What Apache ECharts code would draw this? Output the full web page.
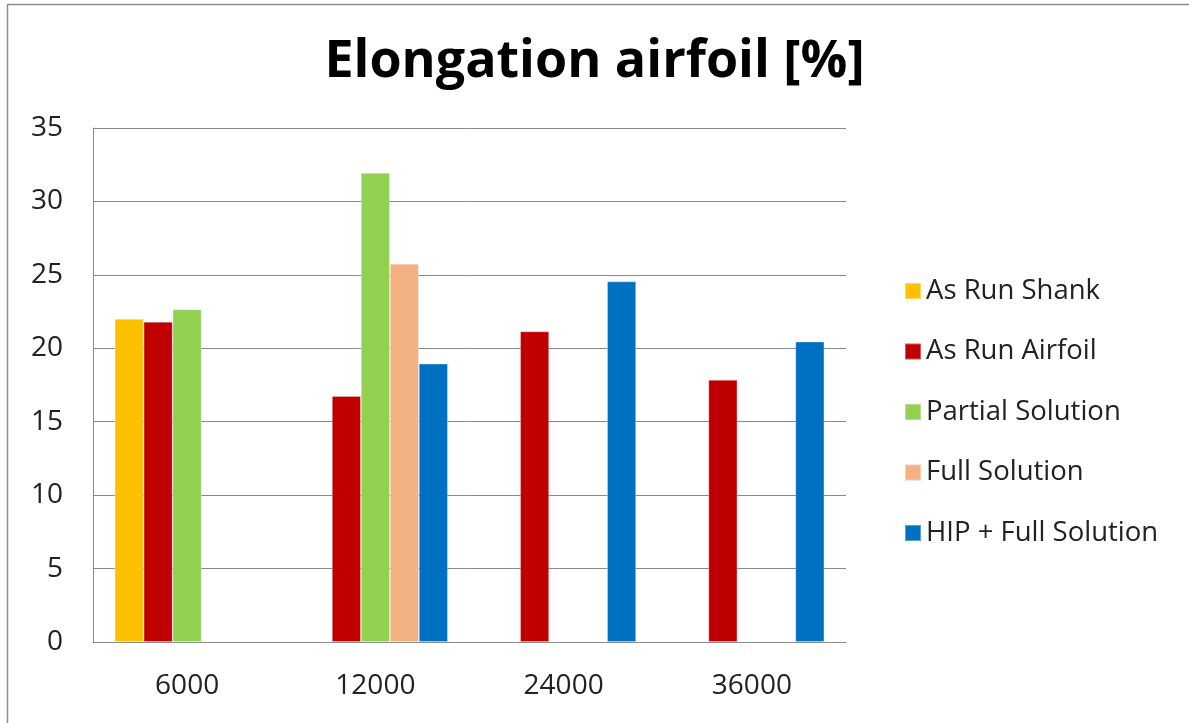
<!DOCTYPE html>
<html>
<head>
<meta charset="utf-8">
<style>
  html, body { margin: 0; padding: 0; background: #fff; }
  #chart { width: 1189px; height: 723px; }
</style>
<script src="https://cdn.jsdelivr.net/npm/echarts@6/dist/echarts.min.js"></script>
</head>
<body>
<div id="chart"></div>
<script>
// Elongation of airfoil specimens by exposure time
const categories = ['6000', '12000', '24000', '36000'];
const yTicks = [0, 5, 10, 15, 20, 25, 30, 35];

const asRunShank      = [22.0, null, null, null];
const asRunAirfoil    = [21.8, 16.75, 21.15, 17.85];
const partialSolution = [22.65, 31.95, null, null];
const fullSolution    = [null, 25.75, null, null];
const hipFullSolution = [null, 18.95, 24.55, 20.45];

const seriesNames  = ['As Run Shank', 'As Run Airfoil', 'Partial Solution', 'Full Solution', 'HIP + Full Solution'];
const seriesValues = [asRunShank, asRunAirfoil, partialSolution, fullSolution, hipFullSolution];
const seriesColors = ['#FFC000', '#C00000', '#92D050', '#F4B183', '#0070C0'];

const FONT = '"Open Sans", "Liberation Sans", sans-serif';

const chart = echarts.init(document.getElementById('chart'), null, { renderer: 'canvas' });

chart.setOption({
  animation: false,
  backgroundColor: '#ffffff',
  title: {
    text: 'Elongation airfoil [%]',
    left: 'center',
    top: 31,
    textStyle: { fontFamily: FONT, fontWeight: 'bold', fontSize: 52, color: '#000' }
  },
  graphic: [
    { type: 'line', shape: { x1: 7, y1: 4.5, x2: 1189, y2: 4.5 }, style: { stroke: '#8c8c8c', lineWidth: 1.5 } },
    { type: 'line', shape: { x1: 7.5, y1: 4, x2: 7.5, y2: 723 }, style: { stroke: '#8c8c8c', lineWidth: 1.5 } }
  ],
  legend: {
    orient: 'vertical',
    left: 899,
    top: 272,
    itemWidth: 16,
    itemHeight: 16,
    itemGap: 32.5,
    icon: 'rect',
    textStyle: { fontFamily: FONT, fontSize: 27.5, color: '#222' },
    data: seriesNames
  },
  grid: { left: 93, right: 343, top: 128, bottom: 81, containLabel: false },
  xAxis: {
    type: 'category',
    data: categories,
    axisLine: { show: true, lineStyle: { color: '#8a8a8a', width: 1 } },
    axisTick: { show: false },
    axisLabel: { fontFamily: FONT, fontSize: 28, color: '#222', margin: 30 }
  },
  yAxis: {
    type: 'value',
    min: yTicks[0],
    max: yTicks[yTicks.length - 1],
    interval: 5,
    axisLine: { show: true, lineStyle: { color: '#8a8a8a', width: 1 } },
    axisTick: { show: false },
    splitLine: { show: true, lineStyle: { color: '#8a8a8a', width: 1 } },
    axisLabel: { fontFamily: FONT, fontSize: 28, color: '#222', margin: 30 }
  },
  series: seriesNames.map((name, i) => ({
    name,
    type: 'bar',
    data: seriesValues[i],
    barGap: '0%',
    barCategoryGap: '23%',
    itemStyle: { color: seriesColors[i], borderColor: 'rgba(255,255,255,0.35)', borderWidth: 0.8 }
  }))
});
</script>
</body>
</html>
